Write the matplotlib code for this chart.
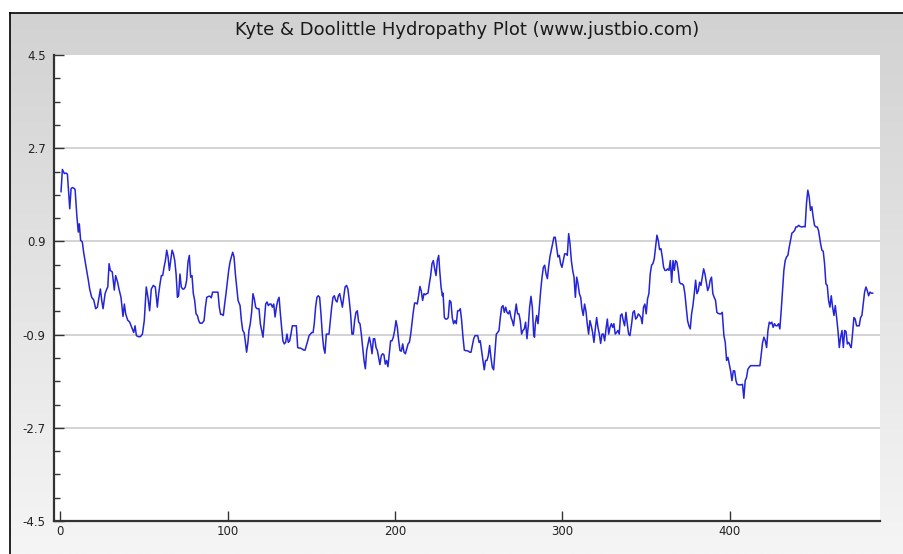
import numpy as np
import matplotlib
matplotlib.use("Agg")
import matplotlib.pyplot as plt
from matplotlib.ticker import MultipleLocator
from matplotlib.colors import LinearSegmentedColormap

# residue position / Kyte-Doolittle score
residue = [
    0.6, 1.4, 2.6, 3.6, 4.4, 5.8, 6.6, 7.4, 8.6, 9.0, 10.1, 10.9, 11.5, 12.3, 13.3, 14.1, 14.9, 15.9,
    16.9, 17.7, 18.9, 20.1, 21.3, 22.3, 23.3, 24.1, 24.9, 25.7, 26.9, 27.9, 28.5, 29.3, 30.0, 31.2,
    32.4, 33.2, 34.4, 35.2, 36.4, 37.6, 38.4, 39.2, 40.4, 41.6, 42.8, 44.0, 44.8, 45.6, 46.8, 48.0,
    49.2, 50.3, 51.5, 52.5, 53.5, 54.5, 55.7, 56.9, 58.1, 58.9, 59.7, 60.5, 61.3, 62.1, 62.9, 63.7,
    64.5, 65.3, 66.1, 66.9, 67.7, 68.5, 69.3, 70.1, 70.8, 71.6, 72.4, 73.2, 74.0, 74.8, 75.6, 76.4,
    77.2, 78.0, 78.8, 79.6, 80.4, 81.2, 82.0, 82.8, 83.6, 84.8, 86.0, 86.8, 87.6, 88.8, 89.6, 90.3,
    91.1, 91.9, 93.1, 94.3, 95.1, 95.9, 96.7, 97.5, 98.3, 99.1, 99.9, 100.7, 101.5, 102.3, 103.1,
    103.9, 104.7, 105.5, 106.3, 107.5, 108.3, 109.1, 109.9, 110.6, 111.4, 112.2, 112.8, 113.6, 114.4,
    115.2, 116.0, 116.8, 117.6, 118.8, 119.6, 120.4, 121.2, 122.0, 122.8, 123.6, 124.4, 125.2, 126.0,
    126.8, 127.6, 128.4, 129.2, 130.0, 130.8, 131.5, 132.3, 133.1, 133.9, 134.7, 135.5, 136.3, 137.1,
    137.9, 138.7, 139.5, 140.3, 141.1, 141.9, 142.7, 143.5, 144.7, 145.5, 146.3, 147.1, 147.9, 148.7,
    149.5, 150.3, 151.1, 151.8, 152.6, 153.4, 154.2, 155.0, 155.8, 156.6, 157.4, 158.2, 159.0, 159.8,
    160.6, 161.4, 162.2, 163.0, 163.8, 164.6, 165.4, 166.2, 167.0, 167.8, 168.6, 169.4, 170.2, 171.1,
    171.9, 172.7, 173.5, 174.3, 175.1, 175.9, 176.7, 177.5, 178.3, 179.1, 179.9, 180.7, 181.5, 182.3,
    183.1, 183.9, 184.7, 185.5, 186.3, 187.1, 187.9, 188.7, 189.5, 190.2, 191.0, 191.8, 192.6, 193.4,
    194.2, 195.0, 195.8, 196.6, 197.4, 198.2, 199.0, 199.8, 200.6, 201.4, 202.2, 203.0, 203.8, 204.6,
    205.4, 206.2, 207.0, 207.8, 208.6, 209.4, 210.1, 210.9, 211.7, 212.5, 213.3, 214.1, 214.9, 215.7,
    216.5, 217.3, 218.1, 218.9, 219.7, 220.5, 221.3, 222.1, 222.9, 223.7, 224.5, 225.3, 226.1, 226.7,
    227.5, 228.3, 228.7, 229.5, 230.2, 231.0, 231.8, 232.6, 233.4, 234.2, 235.0, 235.8, 236.6, 237.4,
    238.2, 239.0, 239.8, 240.6, 241.4, 242.2, 243.0, 243.8, 244.6, 245.4, 246.2, 247.0, 247.8, 248.6,
    249.4, 250.2, 250.9, 251.7, 252.5, 253.3, 254.1, 254.9, 255.7, 256.5, 257.3, 258.1, 258.9, 259.7,
    260.5, 261.3, 262.1, 262.9, 263.7, 264.5, 265.3, 266.1, 266.9, 267.7, 268.5, 269.3, 270.0, 270.8,
    271.6, 272.4, 273.2, 274.0, 274.8, 275.6, 276.4, 277.2, 278.0, 278.8, 279.6, 280.4, 281.2, 282.0,
    282.8, 283.3, 283.8, 284.6, 285.4, 286.2, 287.0, 287.8, 288.6, 289.4, 290.2, 291.0, 291.7, 292.5,
    293.3, 294.1, 294.9, 295.7, 296.5, 297.3, 298.1, 298.9, 299.7, 300.5, 301.3, 302.1, 302.9, 303.7,
    304.5, 305.3, 306.1, 306.9, 307.7, 308.5, 309.3, 310.1, 310.9, 311.6, 312.4, 313.2, 314.0, 314.8,
    315.6, 316.4, 317.2, 318.0, 318.8, 319.6, 320.4, 321.2, 322.0, 322.8, 323.6, 324.4, 325.2, 326.0,
    326.8, 327.6, 328.4, 329.2, 330.0, 330.7, 331.5, 332.3, 333.1, 333.9, 334.7, 335.5, 336.3, 337.1,
    337.9, 338.7, 339.5, 340.3, 341.3, 342.1, 342.9, 343.7, 344.5, 345.3, 346.1, 346.9, 347.6, 348.4,
    349.2, 350.0, 350.8, 351.6, 352.4, 353.2, 354.0, 354.8, 355.6, 356.4, 357.2, 358.0, 358.8, 359.6,
    360.4, 361.2, 362.0, 362.8, 363.6, 364.4, 365.2, 366.0, 366.8, 367.5, 368.3, 369.1, 369.9, 370.7,
    371.5, 372.3, 373.1, 373.9, 374.7, 375.5, 376.3, 377.1, 377.9, 378.7, 379.5, 380.3, 381.1, 381.9,
    382.7, 383.5, 384.3, 385.1, 385.9, 386.7, 387.5, 388.2, 389.0, 389.8, 390.6, 391.4, 392.2, 393.0,
    393.8, 394.6, 395.4, 396.4, 397.2, 398.0, 398.8, 399.6, 400.4, 401.2, 402.0, 402.8, 403.6, 404.3,
    405.1, 405.9, 406.7, 407.5, 408.3, 409.1, 409.9, 410.7, 411.5, 412.3, 413.1, 414.7, 416.3, 417.9,
    418.7, 419.5, 420.3, 421.1, 421.9, 422.7, 423.5, 424.2, 425.0, 425.8, 426.6, 427.4, 428.2, 429.0,
    429.8, 430.6, 431.4, 432.2, 433.0, 433.8, 434.6, 435.4, 436.2, 437.0, 437.8, 438.6, 439.4, 440.2,
    441.0, 441.8, 442.6, 443.4, 444.1, 444.9, 445.7, 446.5, 447.3, 448.1, 448.9, 449.7, 450.5, 451.3,
    452.1, 452.9, 454.1, 454.9, 455.7, 456.5, 457.3, 458.1, 458.9, 459.7, 460.5, 461.3, 462.1, 462.9,
    463.7, 464.5, 465.3, 466.1, 466.9, 467.7, 468.5, 469.3, 470.1, 470.9, 471.7, 472.4, 473.2, 474.0,
    474.8, 475.6, 476.4, 477.2, 478.0, 478.8, 479.6, 480.4, 481.2, 482.0, 482.8, 483.6, 484.4, 485.2,
]
kd_score = [
    1.86, 2.29, 2.21, 2.22, 2.20, 1.53, 1.92, 1.94, 1.92, 1.90, 1.37, 1.08, 1.24, 0.92, 0.89, 0.69, 0.53, 0.34,
    0.15, -0.02, -0.18, -0.23, -0.40, -0.37, -0.18, -0.02, -0.24, -0.40, -0.11, -0.02, 0.02, 0.47, 0.34, 0.31,
    -0.04, 0.24, 0.11, -0.02, -0.18, -0.55, -0.31, -0.50, -0.62, -0.66, -0.76, -0.86, -0.73, -0.92, -0.94, -0.94,
    -0.89, -0.63, 0.02, -0.18, -0.44, -0.02, 0.05, 0.02, -0.37, -0.11, 0.08, 0.24, 0.24, 0.40, 0.53, 0.73,
    0.60, 0.34, 0.53, 0.73, 0.66, 0.53, 0.27, -0.18, -0.15, 0.27, 0.02, -0.02, -0.02, 0.02, 0.15, 0.50,
    0.63, 0.21, 0.24, -0.11, -0.24, -0.50, -0.53, -0.63, -0.68, -0.68, -0.63, -0.37, -0.18, -0.16, -0.16, -0.19,
    -0.08, -0.08, -0.08, -0.08, -0.37, -0.51, -0.51, -0.53, -0.31, -0.11, 0.11, 0.34, 0.50, 0.60, 0.69,
    0.60, 0.27, 0.02, -0.24, -0.34, -0.63, -0.82, -0.86, -1.02, -1.24, -1.05, -0.82, -0.69, -0.47,
    -0.11, -0.21, -0.37, -0.40, -0.40, -0.69, -0.82, -0.95, -0.63, -0.31, -0.27, -0.34, -0.31, -0.31,
    -0.37, -0.31, -0.56, -0.37, -0.24, -0.18, -0.47, -0.76, -1.02, -1.08, -1.05, -0.89, -1.05, -1.02,
    -0.89, -0.73, -0.73, -0.73, -0.73, -1.15, -1.16, -1.16, -1.18, -1.20, -1.20, -1.11, -1.02, -0.92,
    -0.89, -0.86, -0.86, -0.69, -0.37, -0.18, -0.15, -0.18, -0.50, -0.89, -1.15, -1.26, -0.89, -0.89,
    -0.89, -0.63, -0.37, -0.18, -0.15, -0.24, -0.27, -0.15, -0.11, -0.24, -0.37, -0.18, 0.02, 0.05,
    -0.02, -0.24, -0.50, -0.89, -0.89, -0.63, -0.47, -0.44, -0.66, -0.69, -0.89, -1.15, -1.40, -1.56,
    -1.21, -1.08, -0.95, -1.08, -1.27, -0.98, -0.98, -1.15, -1.21, -1.34, -1.48, -1.31, -1.27, -1.29,
    -1.47, -1.40, -1.52, -1.27, -1.02, -1.02, -0.95, -0.82, -0.63, -0.76, -1.02, -1.21, -1.22, -1.08,
    -1.24, -1.27, -1.18, -1.08, -1.05, -0.89, -0.69, -0.47, -0.29, -0.29, -0.31, -0.15, 0.03, -0.06,
    -0.24, -0.11, -0.13, -0.11, -0.10, 0.08, 0.24, 0.47, 0.53, 0.37, 0.24, 0.53, 0.63, 0.34,
    0.02, -0.15, -0.10, -0.57, -0.60, -0.60, -0.57, -0.24, -0.27, -0.57, -0.69, -0.63, -0.69, -0.44,
    -0.44, -0.40, -0.63, -0.95, -1.20, -1.21, -1.21, -1.22, -1.24, -1.24, -1.11, -0.98, -0.92, -0.92,
    -0.92, -1.05, -1.02, -1.21, -1.40, -1.58, -1.40, -1.40, -1.31, -1.11, -1.34, -1.53, -1.58, -1.24,
    -0.89, -0.86, -0.82, -0.57, -0.37, -0.34, -0.47, -0.37, -0.47, -0.50, -0.44, -0.57, -0.63, -0.73,
    -0.50, -0.31, -0.50, -0.50, -0.63, -0.89, -0.82, -0.79, -0.66, -0.98, -0.73, -0.37, -0.16, -0.37,
    -0.89, -0.95, -0.69, -0.53, -0.69, -0.37, -0.05, 0.21, 0.40, 0.44, 0.27, 0.18, 0.40, 0.60,
    0.73, 0.86, 0.98, 0.98, 0.79, 0.60, 0.63, 0.47, 0.40, 0.53, 0.66, 0.66, 0.63, 1.05,
    0.86, 0.53, 0.34, 0.21, -0.18, 0.21, 0.08, -0.11, -0.18, -0.40, -0.53, -0.31, -0.44, -0.69,
    -0.89, -0.63, -0.73, -0.86, -1.05, -0.79, -0.57, -0.76, -0.89, -1.07, -0.89, -0.89, -1.02, -0.79,
    -0.60, -0.89, -0.76, -0.69, -0.76, -0.69, -0.89, -0.86, -0.82, -0.89, -0.53, -0.50, -0.63, -0.73,
    -0.47, -0.69, -0.89, -0.92, -0.69, -0.47, -0.44, -0.60, -0.57, -0.50, -0.53, -0.57, -0.69, -0.37,
    -0.31, -0.50, -0.21, -0.11, 0.27, 0.44, 0.47, 0.56, 0.79, 1.02, 0.92, 0.74, 0.76, 0.60,
    0.40, 0.34, 0.34, 0.37, 0.34, 0.53, 0.11, 0.53, 0.34, 0.53, 0.50, 0.34, 0.11, 0.08,
    0.08, 0.05, -0.11, -0.37, -0.63, -0.73, -0.79, -0.50, -0.34, -0.11, 0.15, -0.11, -0.05, 0.11,
    0.05, 0.21, 0.37, 0.27, 0.11, -0.05, 0.02, 0.15, 0.21, -0.11, -0.18, -0.24, -0.47, -0.49,
    -0.50, -0.50, -0.47, -0.92, -1.05, -1.40, -1.34, -1.47, -1.60, -1.79, -1.60, -1.60, -1.79, -1.86,
    -1.87, -1.87, -1.87, -1.86, -2.13, -1.79, -1.73, -1.57, -1.53, -1.50, -1.50, -1.50, -1.50, -1.50,
    -1.27, -1.05, -0.95, -1.02, -1.15, -0.82, -0.66, -0.69, -0.66, -0.76, -0.69, -0.73, -0.73, -0.69,
    -0.79, -0.44, -0.05, 0.34, 0.53, 0.60, 0.63, 0.79, 0.92, 1.06, 1.08, 1.11, 1.18, 1.18,
    1.21, 1.19, 1.18, 1.18, 1.19, 1.18, 1.63, 1.89, 1.76, 1.50, 1.57, 1.37, 1.21, 1.18,
    1.18, 1.11, 0.86, 0.73, 0.71, 0.47, 0.08, 0.05, -0.24, -0.37, -0.15, -0.37, -0.53, -0.34,
    -0.57, -0.82, -1.15, -0.95, -0.82, -1.15, -0.82, -0.84, -1.08, -1.05, -1.11, -1.15, -0.89, -0.57,
    -0.60, -0.73, -0.73, -0.73, -0.57, -0.53, -0.31, -0.08, 0.02, -0.05, -0.15, -0.08, -0.10, -0.10,
]

y_major = [-4.5, -2.7, -0.9, 0.9, 2.7, 4.5]
grid_levels = [-2.7, -0.9, 0.9, 2.7]
x_major = [0, 100, 200, 300, 400]
title = "Kyte & Doolittle Hydropathy Plot (www.justbio.com)"

W, H = 904, 554
fig = plt.figure(figsize=(W / 100, H / 100), dpi=100, facecolor="white")

# grey gradient panel with a thin black frame on top / left
bg = fig.add_axes([0, 0, 1, 1], zorder=0)
bg.set_xlim(0, 1)
bg.set_ylim(0, 1)
bg.axis("off")
grad_cmap = LinearSegmentedColormap.from_list("bg", ["#f5f5f5", "#d2d2d2"])
grad = np.linspace(0, 1, 256)[:, None]
bg.imshow(grad, cmap=grad_cmap, aspect="auto", origin="lower",
          extent=[10 / W, 1, 0, 1 - 13 / H])
bg.plot([10 / W, 10 / W], [0, 1 - 13 / H], color="black", lw=1.2)
bg.plot([10 / W, 1], [1 - 13 / H, 1 - 13 / H], color="black", lw=1.2)

ax = fig.add_axes([54 / W, 1 - 521 / H, (880 - 54) / W, (521 - 55) / H], zorder=1)
ax.set_facecolor("white")
for lv in grid_levels:
    ax.axhline(lv, color="#d0d0d0", lw=1.3, zorder=1)
ax.plot(residue, kd_score, color="#2424d8", lw=1.1, zorder=2)

ax.set_xlim(-3.6, 489.6)
ax.set_ylim(-4.5, 4.5)
ax.set_xticks(x_major)
ax.set_yticks(y_major)
ax.set_yticklabels([str(v) for v in y_major])
ax.yaxis.set_minor_locator(MultipleLocator(0.45))

for side in ["top", "right"]:
    ax.spines[side].set_visible(False)
for side in ["left", "bottom"]:
    ax.spines[side].set_color("#333333")
    ax.spines[side].set_linewidth(1.6)

ax.tick_params(which="major", direction="in", length=7, width=1, color="#333333",
               labelsize=8.5, labelcolor="#222222")
ax.tick_params(which="minor", direction="in", length=4, width=1, color="#333333")
ax.tick_params(axis="x", pad=3)
ax.tick_params(axis="y", pad=6)

fig.text(467 / W, 1 - 30 / H, title, ha="center", va="center",
         fontsize=13, color="#1a1a1a")

fig.savefig("out.png", dpi=100)
